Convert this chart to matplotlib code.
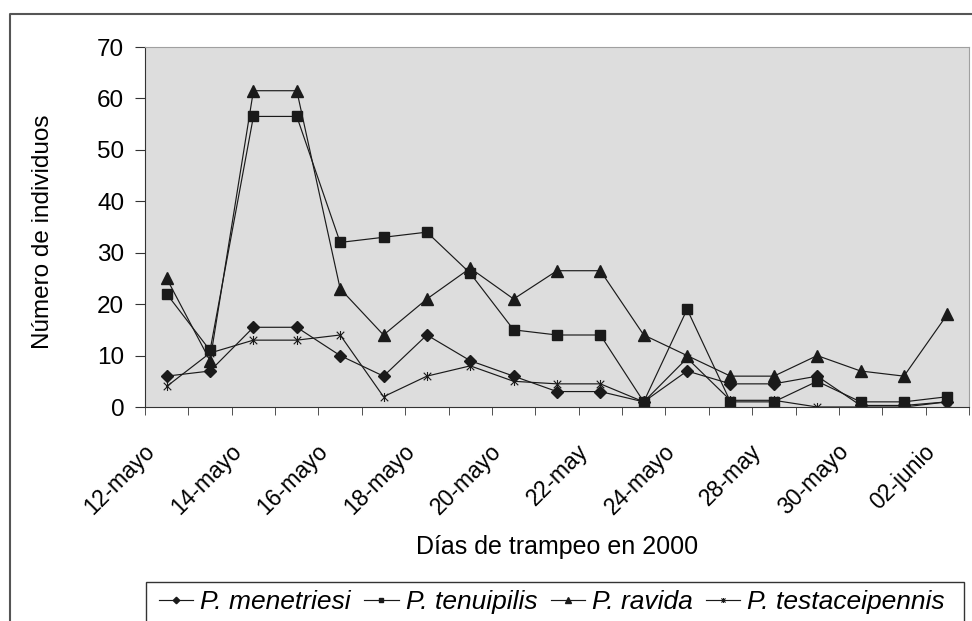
import matplotlib
matplotlib.use('Agg')
import matplotlib.pyplot as plt
import matplotlib.transforms as mtransforms
from matplotlib.path import Path
from matplotlib.lines import Line2D
from matplotlib.patches import Rectangle
import numpy as np

plt.rcParams['font.family'] = ['Liberation Sans', 'DejaVu Sans']

# tick labels (shown on every other trapping day)
date_labels = ['12-mayo', '14-mayo', '16-mayo', '18-mayo', '20-mayo',
               '22-may', '24-mayo', '28-may', '30-mayo', '02-junio']

# counts per trapping day (19 days)
menetriesi = [6, 7, 15.5, 15.5, 10, 6, 14, 9, 6, 3, 3, 1, 7, 4.5, 4.5, 6, 0.3, 0.3, 1]
tenuipilis = [22, 11, 56.5, 56.5, 32, 33, 34, 26, 15, 14, 14, 1, 19, 1, 1, 5, 1, 1, 2]
ravida = [25, 9, 61.5, 61.5, 23, 14, 21, 27, 21, 26.5, 26.5, 14, 10, 6, 6, 10, 7, 6, 18]
testaceipennis = [4, 10.5, 13, 13, 14, 2, 6, 8, 5, 4.5, 4.5, 1, 9.5, 1.3, 1.3, 0, 0, 0, 1]

species = ['P. menetriesi', 'P. tenuipilis', 'P. ravida', 'P. testaceipennis']

# excel-like star marker: x with a vertical bar
star = Path([(-1, -1), (1, 1), (-1, 1), (1, -1), (0, -1.2), (0, 1.2)],
            [Path.MOVETO, Path.LINETO, Path.MOVETO, Path.LINETO, Path.MOVETO, Path.LINETO])

W, H = 972, 621
fig = plt.figure(figsize=(W / 100, H / 100), dpi=100)
ax = fig.add_axes([145 / W, 1 - 407 / H, (969 - 145) / W, (407 - 47) / H])
ax.set_facecolor('#dddddd')

x = np.arange(len(menetriesi))
lc = '#1a1a1a'
ax.plot(x, menetriesi, color=lc, lw=0.85, marker='D', ms=6, mfc=lc, mec=lc, label=species[0])
ax.plot(x, tenuipilis, color=lc, lw=0.85, marker='s', ms=6.5, mfc=lc, mec=lc, label=species[1])
ax.plot(x, ravida, color=lc, lw=0.85, marker='^', ms=8, mfc=lc, mec=lc, label=species[2])
ax.plot(x, testaceipennis, color=lc, lw=0.85, marker=star, ms=6.5, mfc='none', mec=lc, mew=0.8,
        label=species[3])

ax.set_xlim(-0.5, len(x) - 0.5)
ax.set_ylim(0, 70)
ax.set_yticks(range(0, 71, 10))
ax.set_xticks(x[::2])
ax.set_xticklabels(date_labels, rotation=45, ha='right', va='center', rotation_mode='anchor')
ax.set_xticks(np.arange(-0.5, len(x)), minor=True)
ax.tick_params(axis='x', which='major', length=0, pad=29.5, labelsize=16.5)
ax.tick_params(axis='x', which='minor', length=6, direction='out', color='#333333')
ax.tick_params(axis='y', length=7, direction='out', pad=8, labelsize=17.5, color='#333333')

shift = mtransforms.ScaledTranslation(-11.3 / 72, 0, fig.dpi_scale_trans)
for lab in ax.get_xticklabels():
    lab.set_transform(lab.get_transform() + shift)

for s in ['left', 'bottom']:
    ax.spines[s].set_color('#333333')
for s in ['top', 'right']:
    ax.spines[s].set_color('#a0a0a0')

fig.text(43 / W, 1 - 232 / H, 'Número de individuos', fontsize=17.5, rotation=90,
         ha='center', va='center')
fig.text(557 / W, 1 - 547 / H, 'Días de trampeo en 2000', fontsize=18, ha='center', va='center')

# outer chart border (cropped at right and bottom)
fig.add_artist(Line2D([10 / W, 10 / W, 1.01], [-0.01, 1 - 14 / H, 1 - 14 / H],
                      transform=fig.transFigure, color='#555555', lw=1.5))

# legend box
fig.add_artist(Rectangle((146 / W, -0.05), (964 - 146) / W, 0.05 + (621 - 582) / H,
                         transform=fig.transFigure, fill=False, ec='#333333', lw=1))
leg = fig.legend(loc='center', bbox_to_anchor=(552 / W, 1 - 602 / H), ncol=4, frameon=False,
                 handlelength=1.3, handletextpad=0.27, columnspacing=0.5, markerscale=0.55,
                 borderpad=0, prop={'style': 'italic', 'size': 19})

fig.savefig('out.png', dpi=100)
